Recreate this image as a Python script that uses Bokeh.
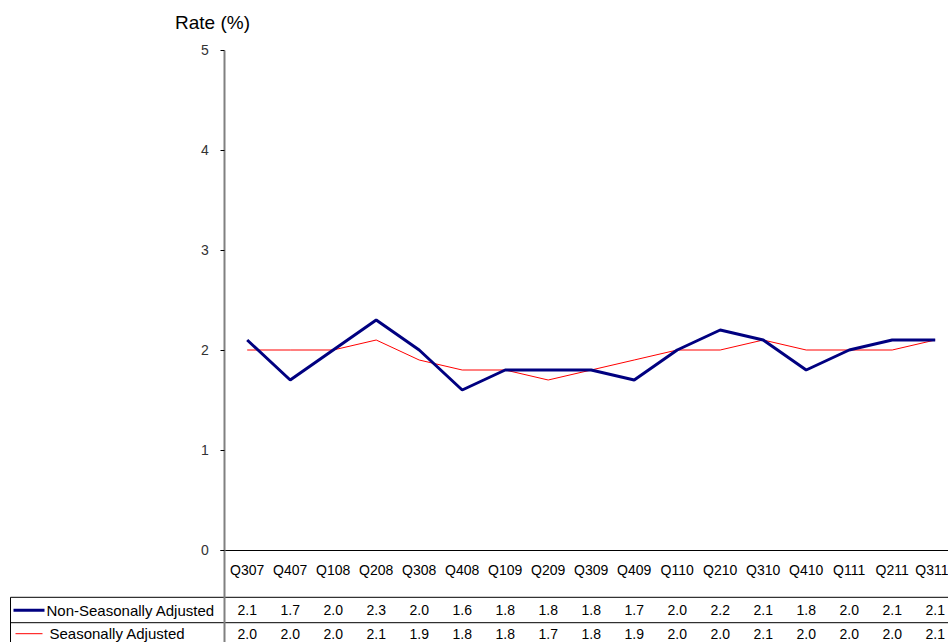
from bokeh.plotting import figure
from bokeh.models import Range1d, LinearAxis, FixedTicker, ColumnDataSource, Label
from bokeh.core.properties import value
from bokeh.embed import file_html
from bokeh.resources import INLINE

categories = ["Q307", "Q407", "Q108", "Q208", "Q308", "Q408", "Q109", "Q209", "Q309",
              "Q409", "Q110", "Q210", "Q310", "Q410", "Q111", "Q211", "Q311"]
non_seasonal = [2.1, 1.7, 2.0, 2.3, 2.0, 1.6, 1.8, 1.8, 1.8, 1.7, 2.0, 2.2, 2.1, 1.8, 2.0, 2.1, 2.1]
seasonal = [2.0, 2.0, 2.0, 2.1, 1.9, 1.8, 1.8, 1.7, 1.8, 1.9, 2.0, 2.0, 2.1, 2.0, 2.0, 2.0, 2.1]
y_ticks = [0, 1, 2, 3, 4, 5]
series_names = ["Non-Seasonally Adjusted", "Seasonally Adjusted"]

FONT = "Liberation Sans"
W, H = 948, 642
PX = 43.0
XL = -246.7 / PX
XR = XL + W / PX
YT = 5.495
YB = YT - H / 100.0

p = figure(width=W, height=H, x_range=Range1d(XL, XR), y_range=Range1d(YB, YT),
           x_axis_type=None, y_axis_type=None, toolbar_location=None,
           output_backend="svg", min_border=0)
p.outline_line_color = None
p.xgrid.visible = False
p.ygrid.visible = False
p.background_fill_color = "white"
p.border_fill_color = "white"

# y axis
yax = LinearAxis(fixed_location=-0.52, ticker=FixedTicker(ticks=y_ticks),
                 bounds=(YB, 5))
yax.axis_line_color = "#808080"
yax.axis_line_width = 2
yax.major_tick_out = 4
yax.major_tick_in = 0
yax.major_tick_line_color = "black"
yax.minor_tick_line_color = None
yax.major_label_text_font = FONT
yax.major_label_text_font_size = "14px"
yax.major_label_text_color = "#333333"
yax.major_label_standoff = 12
p.add_layout(yax, "left")

# x (category) axis at zero
xs = list(range(len(categories)))
xax = LinearAxis(fixed_location=0, ticker=FixedTicker(ticks=xs),
                 bounds=(-0.62, XR))
xax.major_label_overrides = {i: c for i, c in enumerate(categories)}
xax.axis_line_color = "black"
xax.axis_line_width = 1
xax.major_tick_out = 0
xax.major_tick_in = 0
xax.minor_tick_line_color = None
xax.major_label_text_font = FONT
xax.major_label_text_font_size = "14px"
xax.major_label_text_color = "black"
xax.major_label_standoff = 12
p.add_layout(xax, "below")

# series
p.line(xs, seasonal, line_color="#FF0000", line_width=1)
p.line(xs, non_seasonal, line_color="#000080", line_width=3)

# title
p.add_layout(Label(x=-0.807, y=5.28, x_units="data", y_units="data", text="Rate (%)",
                   text_font=FONT, text_font_size="19px", text_align="center",
                   text_baseline="alphabetic", text_color="black"))

# data table
row_top, row_mid = -0.473, -0.727
left_edge = XL + 10 / PX
p.segment(x0=[left_edge, left_edge, left_edge], y0=[row_top, row_mid, row_top],
          x1=[XR, XR, left_edge], y1=[row_top, row_mid, YB],
          line_color="black", line_width=1)

row_y = [-0.603, -0.837]
for vals, ry in zip([non_seasonal, seasonal], row_y):
    src = ColumnDataSource(dict(x=xs, y=[ry] * len(xs), t=["%.1f" % v for v in vals]))
    p.text(x="x", y="y", text="t", source=src, text_font=value(FONT),
           text_font_size="14px", text_align="center", text_baseline="middle",
           text_color="black")

# legend keys in table
p.segment(x0=[XL + 13 / PX], y0=[row_y[0]], x1=[XL + 44 / PX], y1=[row_y[0]],
          line_color="#000080", line_width=3)
p.segment(x0=[XL + 15 / PX], y0=[row_y[1]], x1=[XL + 42 / PX], y1=[row_y[1]],
          line_color="#FF0000", line_width=1)
p.text(x=[XL + 46 / PX, XL + 49 / PX], y=row_y, text=series_names,
       text_font=value(FONT), text_font_size="15px", text_align="left",
       text_baseline="middle", text_color="black")

open("out.html", "w").write(file_html(p, INLINE))
